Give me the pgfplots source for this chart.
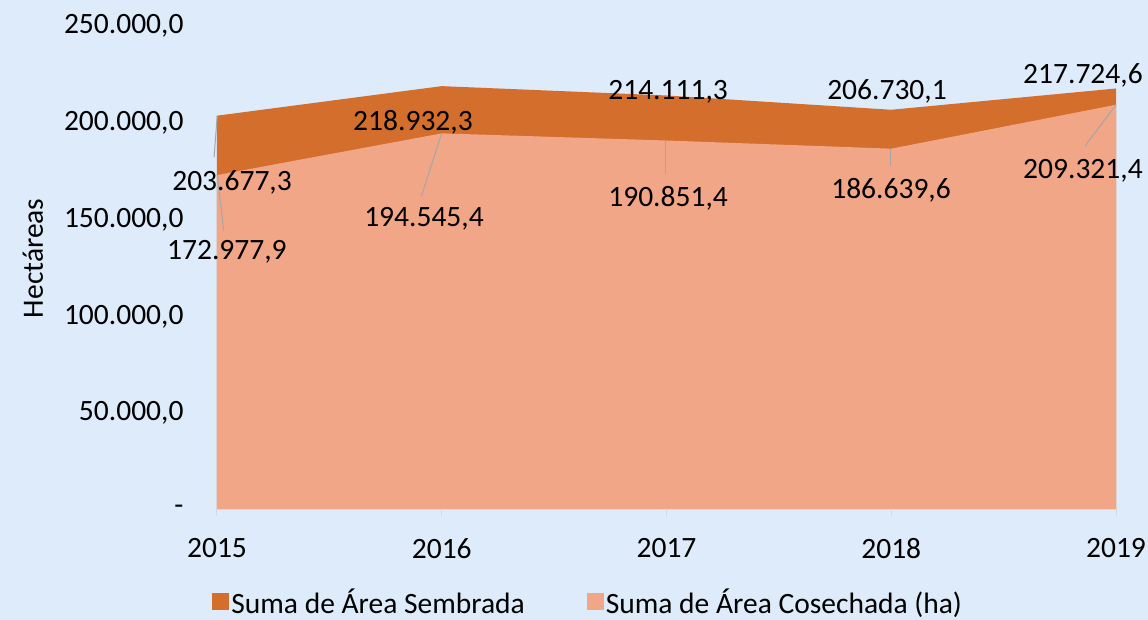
\documentclass[border=0pt]{standalone}
\usepackage{pgfplots}
\pgfplotsset{compat=1.18}
\usepackage{fontspec}
\setmainfont{Carlito}
\definecolor{bgc}{HTML}{DEEBFA}
\definecolor{semb}{HTML}{D46E2C}
\definecolor{cose}{HTML}{F1A688}
\definecolor{axg}{HTML}{D9D9D9}
\definecolor{lead}{HTML}{A6A6A6}
\begin{document}
\begin{tikzpicture}[font=\fontsize{29.5pt}{35pt}\selectfont]
\fill[bgc] (0,0) rectangle (1148pt,620pt);
\begin{axis}[
  at={(217pt,110pt)}, anchor=south west,
  scale only axis, width=899pt, height=484pt,
  xmin=2015, xmax=2019, ymin=0, ymax=250000,
  scaled y ticks=false,
  axis lines*=left,
  y axis line style={draw=none},
  x axis line style={draw=axg, line width=1pt},
  xtick={2015,2016,2017,2018,2019},
  xticklabels={2015,2016,2017,2018,2019},
  ytick={0,50000,100000,150000,200000,250000},
  yticklabels={{-},{50.000,0},{100.000,0},{150.000,0},{200.000,0},{250.000,0}},
  tick align=outside,
  major tick length=6pt,
  xtick style={draw=axg, line width=1pt},
  ytick style={draw=none},
  xticklabel style={yshift=-19pt},
  yticklabel style={xshift=-24pt},
  /pgf/number format/assume math mode=true,
  ylabel={Hectáreas},
  every axis y label/.style={at={(axis description cs:-0.2047,0.52)}, rotate=90, anchor=center},
  axis on top,
  clip=false,
  legend style={at={(axis description cs:-0.0087,-0.190)}, anchor=west, draw=none, fill=none,
    legend columns=2, font=\fontsize{29.5pt}{35pt}\selectfont,
    /tikz/every even column/.append style={column sep=60pt}},
  legend cell align=left,
  legend image code/.code={\fill[#1] (-4pt,-8.5pt) rectangle (13pt,8.5pt);},
]
\addplot[fill=semb, draw=none] coordinates {
 (2015,203677.3) (2016,218932.3) (2017,214111.3) (2018,206730.1) (2019,217724.6)} \closedcycle;
\addlegendentry{Suma de Área Sembrada}
\addplot[fill=cose, draw=none] coordinates {
 (2015,172977.9) (2016,194545.4) (2017,190851.4) (2018,186639.6) (2019,209321.4)} \closedcycle;
\addlegendentry{Suma de Área Cosechada (ha)}
% leader lines
\draw[lead, line width=1pt] (axis cs:2015.001,203677) -- (axis cs:2014.987,182200);
\draw[lead, line width=1pt] (axis cs:2015.001,172978) -- (axis cs:2015.030,144100);
\draw[lead, line width=1pt] (axis cs:2016,194545) -- (axis cs:2015.909,162000);
\draw[lead, line width=1pt] (axis cs:2016.996,190851) -- (axis cs:2016.996,173600);
\draw[lead, line width=1pt] (axis cs:2017.996,186640) -- (axis cs:2017.996,177500);
\draw[lead, line width=1pt] (axis cs:2019,209321) -- (axis cs:2018.862,188000);
% data labels
\node at (axis cs:2015.067,169421) {203.677,3};
\node at (axis cs:2015.044,133264) {172.977,9};
\node at (axis cs:2015.872,200413) {218.932,3};
\node at (axis cs:2015.921,150310) {194.545,4};
\node at (axis cs:2017.007,215909) {214.111,3};
\node at (axis cs:2017.007,161157) {190.851,4};
\node at (axis cs:2017.981,216426) {206.730,1};
\node at (axis cs:2017.999,165289) {186.639,6};
\node at (axis cs:2018.853,224690) {217.724,6};
\node at (axis cs:2018.853,175103) {209.321,4};
\end{axis}
\pgfresetboundingbox
\useasboundingbox (0,0) rectangle (1148pt,620pt);
\end{tikzpicture}
\end{document}
